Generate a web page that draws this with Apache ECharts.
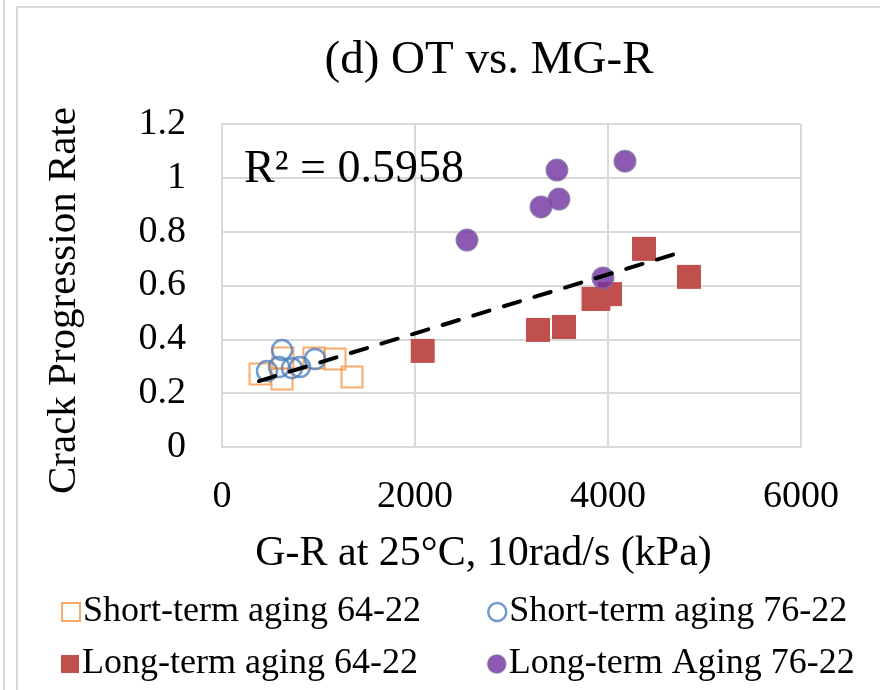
<!DOCTYPE html>
<html>
<head>
<meta charset="utf-8">
<script src="https://cdn.jsdelivr.net/npm/echarts@6/dist/echarts.min.js"></script>
<style>
html,body{margin:0;padding:0;background:#fff;}
#chart{width:880px;height:690px;}
</style>
</head>
<body>
<div id="chart"></div>
<script>
// ---- data ----
var st64X = [394, 622, 632, 953, 1171, 1347];
var st64Y = [0.271, 0.253, 0.331, 0.331, 0.327, 0.26];
var st76X = [466, 591, 622, 725, 808, 964];
var st76Y = [0.282, 0.297, 0.36, 0.293, 0.297, 0.327];
var lt64X = [2080, 3275, 3544, 3850, 3900, 4021, 4373, 4839];
var lt64Y = [0.357, 0.435, 0.446, 0.55, 0.55, 0.568, 0.736, 0.632];
var lt76X = [2539, 3306, 3471, 3492, 3948, 4176];
var lt76Y = [0.769, 0.892, 1.029, 0.921, 0.628, 1.062];
var trendX = [383, 4694];
var trendY = [0.245, 0.717];
var seriesNames = ['Short-term aging 64-22', 'Short-term aging 76-22', 'Long-term aging 64-22', 'Long-term Aging 76-22'];
var xTicks = [0, 2000, 4000, 6000];
var yTicks = [0, 0.2, 0.4, 0.6, 0.8, 1, 1.2];
var titleText = '(d) OT vs. MG-R';
var xName = 'G-R at 25°C, 10rad/s (kPa)';
var yName = 'Crack Progression Rate';
var r2Text = 'R² = 0.5958';

function zip(xs, ys) { return xs.map(function (x, i) { return [x, ys[i]]; }); }

var FONT = "'Liberation Serif', 'Times New Roman', serif";
var cOrange = '#F79646', cBlue = '#4F81BD', cRed = '#C0504D', cPurple = '#7030A0';

var chart = echarts.init(document.getElementById('chart'), null, {renderer: 'canvas'});

var legendCommon = {
  itemWidth: 18, itemHeight: 18, itemGap: 0, selectedMode: false,
  textStyle: {fontFamily: FONT, fontSize: 36, color: '#000', padding: [0, 0, 0, -2]}
};
function lg(name, left, top, icon, style) {
  return Object.assign({}, legendCommon, {
    left: left, top: top, icon: icon,
    data: [{name: name, icon: icon, itemStyle: style}]
  });
}

var option = {
  animation: false,
  backgroundColor: '#fff',
  title: {
    text: titleText, left: 484, top: 32, textAlign: 'center',
    textStyle: {fontFamily: FONT, fontSize: 47, fontWeight: 'normal', color: '#000'}
  },
  legend: [
    lg(seriesNames[0], 56, 589, 'rect', {color: 'rgba(0,0,0,0)', borderColor: cOrange, borderWidth: 2}),
    lg(seriesNames[1], 482, 589, 'circle', {color: 'rgba(0,0,0,0)', borderColor: cBlue, borderWidth: 2.5}),
    lg(seriesNames[2], 56, 641, 'rect', {color: cRed, borderWidth: 0}),
    lg(seriesNames[3], 482, 641, 'circle', {color: cPurple, borderColor: '#8064A2', borderWidth: 1.5})
  ],
  grid: {left: 222, right: 79, top: 124, bottom: 243, containLabel: false},
  xAxis: {
    type: 'value', min: xTicks[0], max: xTicks[xTicks.length - 1], interval: 2000,
    name: xName, nameLocation: 'middle', nameGap: 86,
    nameTextStyle: {fontFamily: FONT, fontSize: 42, color: '#000', padding: [0, 56, 0, 0]},
    axisLine: {show: true, lineStyle: {color: '#d9d9d9', width: 2}},
    axisTick: {show: false},
    axisLabel: {fontFamily: FONT, fontSize: 38, color: '#000', margin: 31,
      formatter: function (v) { return String(v); }},
    splitLine: {show: true, lineStyle: {color: '#d9d9d9', width: 2}}
  },
  yAxis: {
    type: 'value', min: yTicks[0], max: yTicks[yTicks.length - 1], interval: 0.2,
    name: yName, nameLocation: 'middle', nameGap: 137, nameRotate: 90,
    nameTextStyle: {fontFamily: FONT, fontSize: 41, color: '#000', padding: [0, 30, 0, 0]},
    axisLine: {show: true, lineStyle: {color: '#d9d9d9', width: 2}},
    axisTick: {show: false},
    axisLabel: {fontFamily: FONT, fontSize: 38, color: '#000', margin: 36,
      formatter: function (v) { return String(Math.round(v * 10) / 10); }},
    splitLine: {show: true, lineStyle: {color: '#d9d9d9', width: 2}}
  },
  graphic: [
    {type: 'line', shape: {x1: 4, y1: 0, x2: 4, y2: 690}, style: {stroke: '#d9d9d9', lineWidth: 2}, silent: true},
    {type: 'polyline', shape: {points: [[17, 690], [17, 7], [880, 7]]}, style: {stroke: '#d9d9d9', lineWidth: 2, fill: null}, silent: true},
    {type: 'text', left: 244, top: 147, style: {text: r2Text, font: '46px ' + FONT, fill: '#000'}, z: 20}
  ],
  series: [
    {name: seriesNames[0], type: 'scatter', symbol: 'rect', symbolSize: 21, data: zip(st64X, st64Y),
     itemStyle: {color: 'rgba(0,0,0,0)', borderColor: cOrange, borderWidth: 2}, z: 2},
    {name: seriesNames[1], type: 'scatter', symbol: 'circle', symbolSize: 20, data: zip(st76X, st76Y),
     itemStyle: {color: 'rgba(0,0,0,0)', borderColor: cBlue, borderWidth: 2.5}, z: 3},
    {name: seriesNames[2], type: 'scatter', symbol: 'rect', symbolSize: 24, data: zip(lt64X, lt64Y),
     itemStyle: {color: cRed, opacity: 1}, z: 4},
    {name: seriesNames[3], type: 'scatter', symbol: 'circle', symbolSize: 21, data: zip(lt76X, lt76Y),
     itemStyle: {color: cPurple, borderColor: '#8064A2', borderWidth: 2}, z: 5},
    {name: 'trend', type: 'line', data: zip(trendX, trendY), showSymbol: false, symbol: 'none',
     lineStyle: {color: '#000', width: 4, type: [17, 15], cap: 'round'}, z: 10, silent: true}
  ]
};
chart.setOption(option);
</script>
</body>
</html>
